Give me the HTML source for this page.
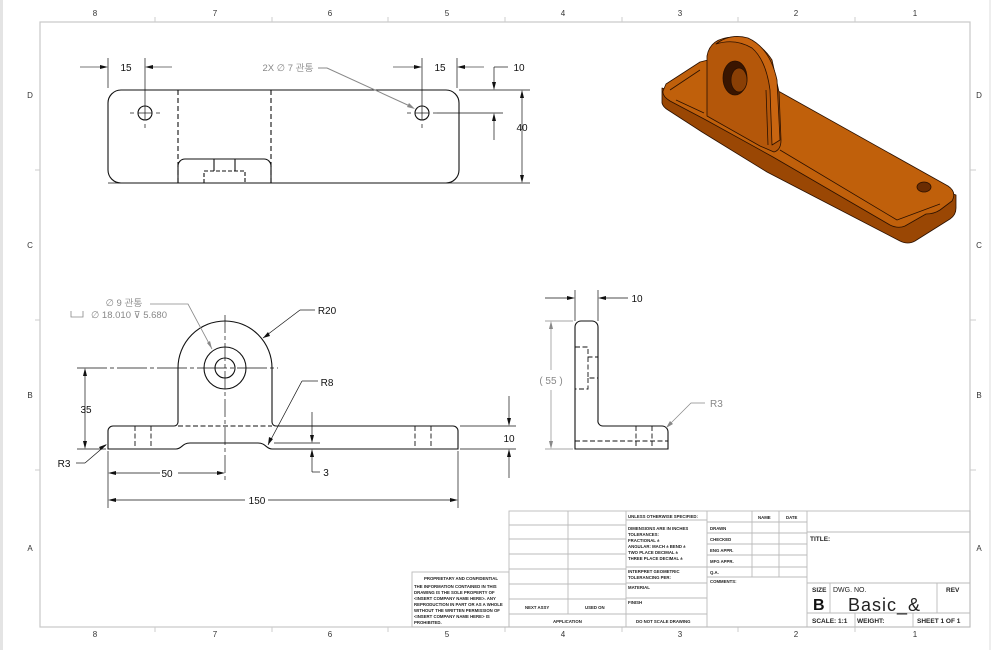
<!DOCTYPE html>
<html><head><meta charset="utf-8"><style>
html,body{margin:0;padding:0;background:#fff;}
svg{display:block;}
text{font-family:"Liberation Sans","NanumGothic",sans-serif;}
.t{font-size:4.3px;font-weight:bold;fill:#222;}
</style></head><body>
<svg width="1008" height="650" viewBox="0 0 1008 650" xmlns="http://www.w3.org/2000/svg">
<rect x="0" y="0" width="1008" height="650" fill="#fff"/>
<rect x="0" y="0" width="3" height="650" fill="#e4e4e4"/>
<!-- frames -->
<rect x="40" y="22" width="930" height="605" fill="none" stroke="#c8c8c8" stroke-width="1.2"/>
<line x1="990" y1="0" x2="990" y2="650" stroke="#ddd"/>
<g stroke="#ccc" stroke-width="1">
<line x1="155" y1="17" x2="155" y2="22"/><line x1="272" y1="17" x2="272" y2="22"/><line x1="388" y1="17" x2="388" y2="22"/><line x1="505" y1="17" x2="505" y2="22"/><line x1="622" y1="17" x2="622" y2="22"/><line x1="738" y1="17" x2="738" y2="22"/><line x1="855" y1="17" x2="855" y2="22"/>
<line x1="155" y1="627" x2="155" y2="632"/><line x1="272" y1="627" x2="272" y2="632"/><line x1="388" y1="627" x2="388" y2="632"/><line x1="505" y1="627" x2="505" y2="632"/><line x1="622" y1="627" x2="622" y2="632"/><line x1="738" y1="627" x2="738" y2="632"/><line x1="855" y1="627" x2="855" y2="632"/>
<line x1="35" y1="170" x2="40" y2="170"/><line x1="35" y1="320" x2="40" y2="320"/><line x1="35" y1="470" x2="40" y2="470"/>
<line x1="970" y1="170" x2="976" y2="170"/><line x1="970" y1="320" x2="976" y2="320"/><line x1="970" y1="470" x2="976" y2="470"/>
</g>
<g font-size="8" fill="#333" text-anchor="middle">
<text x="95" y="16">8</text><text x="215" y="16">7</text><text x="330" y="16">6</text><text x="447" y="16">5</text><text x="563" y="16">4</text><text x="680" y="16">3</text><text x="796" y="16">2</text><text x="915" y="16">1</text>
<text x="95" y="637">8</text><text x="215" y="637">7</text><text x="330" y="637">6</text><text x="447" y="637">5</text><text x="563" y="637">4</text><text x="680" y="637">3</text><text x="796" y="637">2</text><text x="915" y="637">1</text>
<text x="30" y="98">D</text><text x="30" y="248">C</text><text x="30" y="398">B</text><text x="30" y="551">A</text>
<text x="979" y="98">D</text><text x="979" y="248">C</text><text x="979" y="398">B</text><text x="979" y="551">A</text>
</g>

<!-- TOP VIEW -->
<g fill="none" stroke="#111" stroke-width="1.1">
<rect x="108" y="90" width="351" height="93" rx="13"/>
<circle cx="145" cy="113" r="7"/><circle cx="422" cy="113" r="7"/>
<line x1="178" y1="90" x2="178" y2="183" stroke-dasharray="5,3"/>
<line x1="271" y1="90" x2="271" y2="183" stroke-dasharray="5,3"/>
<path d="M178,183 V166 a7,7 0 0 1 7,-7 H264 a7,7 0 0 1 7,7 V183"/>
<path d="M204,183 V171 H245 V183" stroke-dasharray="4,2"/>
<line x1="214" y1="159" x2="214" y2="171"/><line x1="235" y1="159" x2="235" y2="171"/>
</g>
<g stroke="#111" stroke-width="0.7">
<line x1="138" y1="113" x2="152" y2="113"/><line x1="145" y1="106" x2="145" y2="120"/>
<line x1="415" y1="113" x2="429" y2="113"/><line x1="422" y1="106" x2="422" y2="120"/>
<line x1="130" y1="113" x2="134" y2="113"/><line x1="156" y1="113" x2="160" y2="113"/><line x1="145" y1="124" x2="145" y2="128"/>
<line x1="407" y1="113" x2="411" y2="113"/><line x1="433" y1="113" x2="437" y2="113"/><line x1="422" y1="124" x2="422" y2="128"/>
<line x1="108" y1="58" x2="108" y2="88"/><line x1="145" y1="58" x2="145" y2="106"/>
<line x1="422" y1="58" x2="422" y2="106"/><line x1="457" y1="58" x2="457" y2="88"/>
<line x1="459" y1="90" x2="530" y2="90"/><line x1="108" y1="183" x2="530" y2="183"/>
<line x1="437" y1="113" x2="503" y2="113"/>
<line x1="522" y1="92" x2="522" y2="181"/>
<line x1="494" y1="67" x2="494" y2="88"/><line x1="494" y1="67" x2="508" y2="67"/>
<line x1="494" y1="115" x2="494" y2="140"/>
</g>
<g stroke="#777" stroke-width="1">
<line x1="80" y1="67" x2="100" y2="67"/><line x1="153" y1="67" x2="172" y2="67"/>
<line x1="393" y1="67" x2="414" y2="67"/><line x1="465" y1="67" x2="484" y2="67"/>
<path d="M318,68 H327 L412,107" fill="none" stroke="#888"/>
</g>
<g fill="#111">
<polygon points="108,67 100,65 100,69"/><polygon points="145,67 153,65 153,69"/>
<polygon points="422,67 414,65 414,69"/><polygon points="457,67 465,65 465,69"/>
<polygon points="494,90 492,82 496,82"/><polygon points="494,113 492,121 496,121"/>
<polygon points="522,90 520,98 524,98"/><polygon points="522,183 520,175 524,175"/>
<polygon points="415,109 407,107 409,103" fill="#888"/>
</g>
<g font-size="10" fill="#111" text-anchor="middle">
<text x="126" y="71">15</text><text x="440" y="71">15</text><text x="519" y="71">10</text><text x="522" y="131">40</text>
</g>
<text x="288" y="71" font-size="9.5" fill="#888" text-anchor="middle">2X ∅ 7 관통</text>

<!-- FRONT VIEW -->
<g fill="none" stroke="#111" stroke-width="1.1">
<path d="M108,449 V431 a5,5 0 0 1 5,-5 H174 a4,4 0 0 0 4,-4 V368 A47,47 0 0 1 272,368 V422 a4,4 0 0 0 4,4 H453 a5,5 0 0 1 5,5 V449 H272 C266,449 266,443 258,443 H190 C182,443 182,449 176,449 Z"/>
<circle cx="225" cy="368" r="21"/><circle cx="225" cy="368" r="10"/>
<g stroke-dasharray="5,2.5" stroke-width="0.9">
<line x1="178" y1="426" x2="272" y2="426"/>
<line x1="135" y1="426" x2="135" y2="449"/><line x1="151" y1="426" x2="151" y2="449"/>
<line x1="415" y1="426" x2="415" y2="449"/><line x1="431" y1="426" x2="431" y2="449"/>
</g>
</g>
<g stroke="#111" stroke-width="0.7">
<line x1="225" y1="315" x2="225" y2="480" stroke-dasharray="18,3,4,3"/>
<line x1="77" y1="368" x2="278" y2="368" stroke-dasharray="30,3,4,3"/>
<line x1="77" y1="449" x2="106" y2="449"/>
<line x1="85" y1="370" x2="85" y2="447"/>
<line x1="108" y1="451" x2="108" y2="508"/><line x1="458" y1="451" x2="458" y2="508"/>
<line x1="110" y1="473" x2="160" y2="473"/><line x1="178" y1="473" x2="223" y2="473"/>
<line x1="110" y1="500" x2="245" y2="500"/><line x1="268" y1="500" x2="456" y2="500"/>
<line x1="460" y1="426" x2="516" y2="426"/><line x1="460" y1="449" x2="516" y2="449"/>
<line x1="509" y1="396" x2="509" y2="424"/><line x1="509" y1="451" x2="509" y2="478"/>
<line x1="274" y1="443" x2="320" y2="443"/>
<line x1="312" y1="412" x2="312" y2="441"/><line x1="312" y1="451" x2="312" y2="472"/><line x1="312" y1="472" x2="320" y2="472"/>
<line x1="268" y1="445" x2="302" y2="381"/><line x1="302" y1="381" x2="318" y2="381"/>
<line x1="263" y1="338" x2="300" y2="310"/><line x1="300" y1="310" x2="315" y2="310"/>
<line x1="76" y1="463" x2="85" y2="463"/><line x1="85" y1="463" x2="106" y2="445"/>
</g>
<g fill="#111">
<polygon points="85,368 83,376 87,376"/><polygon points="85,449 83,441 87,441"/>
<polygon points="108,473 116,471 116,475"/><polygon points="225,473 217,471 217,475"/>
<polygon points="108,500 116,498 116,502"/><polygon points="458,500 450,498 450,502"/>
<polygon points="509,426 507,418 511,418"/><polygon points="509,449 507,457 511,457"/>
<polygon points="312,443 310,435 314,435"/><polygon points="312,449 310,457 314,457"/>
<polygon points="268,445 269,437 273,439"/>
<polygon points="263,338 268,332 270,336"/>
<polygon points="107,444 101,450 99,447"/>
</g>
<path d="M150,304 H188 L212,349" fill="none" stroke="#888" stroke-width="0.8"/>
<polygon points="212,349 207,343 210,341" fill="#888"/>
<g font-size="10" fill="#111" text-anchor="middle">
<text x="86" y="413">35</text><text x="167" y="477">50</text><text x="257" y="504">150</text><text x="509" y="442">10</text>
<text x="326" y="476">3</text><text x="327" y="386">R8</text><text x="327" y="314">R20</text><text x="64" y="467">R3</text>
</g>
<text x="124" y="306" font-size="9.5" fill="#888" text-anchor="middle">∅ 9 관통</text>
<text x="91" y="318" font-size="9.5" fill="#888">∅ 18.010 ⊽ 5.680</text>
<path d="M71,311 V317 H83 V311" fill="none" stroke="#888" stroke-width="0.8"/>

<!-- SIDE VIEW -->
<g fill="none" stroke="#111" stroke-width="1.1">
<path d="M575,449 V327 a6,6 0 0 1 6,-6 H592 a6,6 0 0 1 6,6 V420 a5,5 0 0 0 5,6 H662 a6,6 0 0 1 6,6 V449 Z"/>
<g stroke-dasharray="5,2.5" stroke-width="0.9">
<path d="M575,347 H588 V357 H598 M588,357 V378 H598 M588,378 V389 H575"/>
<line x1="575" y1="441" x2="668" y2="441"/>
<line x1="636" y1="426" x2="636" y2="449"/><line x1="652" y1="426" x2="652" y2="449"/>
</g>
</g>
<g stroke="#111" stroke-width="0.7">
<line x1="575" y1="290" x2="575" y2="321"/><line x1="598" y1="290" x2="598" y2="321"/>
<line x1="545" y1="298" x2="567" y2="298"/><line x1="606" y1="298" x2="628" y2="298"/>
</g>
<g stroke="#888" stroke-width="0.7">
<line x1="545" y1="321" x2="573" y2="321"/><line x1="545" y1="449" x2="573" y2="449"/>
<line x1="551" y1="323" x2="551" y2="370"/><line x1="551" y1="390" x2="551" y2="447"/>
<path d="M666,428 L691,403 H705" fill="none"/>
</g>
<g fill="#111">
<polygon points="575,298 567,296 567,300"/><polygon points="598,298 606,296 606,300"/>
</g>
<g fill="#888">
<polygon points="551,321 549,329 553,329"/><polygon points="551,449 549,441 553,441"/>
<polygon points="666,428 670,421 673,424"/>
</g>
<text x="637" y="302" font-size="10" fill="#111" text-anchor="middle">10</text>
<text x="551" y="384" font-size="10" fill="#888" text-anchor="middle">( 55 )</text>
<text x="710" y="407" font-size="10" fill="#888">R3</text>

<!-- 3D VIEW -->
<g stroke="#2a1000" stroke-width="0.8" stroke-linejoin="round">
<!-- plate thickness / underside -->
<path d="M662,88 L662,103 Q663,107 668,110 L702,132 L767,172 L900,241 Q908,245 915,241 L950,219 Q956,215 956,208 L956,195 Z" fill="#9a4704"/>
<!-- plate top face -->
<path d="M666,84 L700,62 L708,60 L780,92 L948,186 Q957,192 952,201 L940,210 Q934,214 926,214 L905,226 Q898,229 890,225 L773,157 L706,120 L670,101 Q662,96 663,91 Z" fill="#c0600b"/>
<path d="M670,90 L700,70 M676,100 L704,113 M780,150 L897,220 L940,204" fill="none"/>
<!-- upright face -->
<path d="M707,116 V56 Q710,38 733,37 Q758,38 772,60 L779,92 L781,140 Q781,150 774,152 L760,146 Z" fill="#b4570a"/>
<!-- upright rim -->
<path d="M716,44 Q730,33 748,38 Q770,48 777,80 L780,140 L772,145 L770,90 Q766,60 752,48 Q735,38 716,44 Z" fill="#c96510"/>
<path d="M766,90 L768,145" fill="none"/>
<ellipse cx="735" cy="78" rx="12" ry="17" fill="#3a1500"/>
<ellipse cx="739" cy="80" rx="8" ry="12" fill="#8a3f05"/>
<ellipse cx="924" cy="187" rx="7" ry="5" fill="#6a2c02"/>
</g>

<!-- TITLE BLOCK -->
<g stroke="#bbb" stroke-width="0.9" fill="none">
<rect x="509" y="511" width="461" height="116"/>
<line x1="509" y1="525" x2="626" y2="525"/><line x1="509" y1="539" x2="626" y2="539"/><line x1="509" y1="554" x2="626" y2="554"/><line x1="509" y1="569" x2="626" y2="569"/><line x1="509" y1="584" x2="626" y2="584"/><line x1="509" y1="599" x2="626" y2="599"/><line x1="509" y1="614" x2="707" y2="614"/>
<line x1="568" y1="511" x2="568" y2="614"/><line x1="626" y1="511" x2="626" y2="627"/><line x1="707" y1="511" x2="707" y2="627"/>
<line x1="626" y1="520" x2="707" y2="520"/><line x1="626" y1="567" x2="707" y2="567"/><line x1="626" y1="583" x2="707" y2="583"/><line x1="626" y1="598" x2="707" y2="598"/>
<line x1="707" y1="522" x2="807" y2="522"/><line x1="707" y1="533" x2="807" y2="533"/><line x1="707" y1="544" x2="807" y2="544"/><line x1="707" y1="555" x2="807" y2="555"/><line x1="707" y1="567" x2="807" y2="567"/><line x1="707" y1="577" x2="807" y2="577"/>
<line x1="752" y1="511" x2="752" y2="577"/><line x1="779" y1="511" x2="779" y2="577"/><line x1="807" y1="511" x2="807" y2="627"/>
<line x1="807" y1="532" x2="970" y2="532"/><line x1="807" y1="583" x2="970" y2="583"/><line x1="807" y1="613" x2="970" y2="613"/>
<line x1="830" y1="583" x2="830" y2="613"/><line x1="937" y1="583" x2="937" y2="613"/>
<line x1="855" y1="613" x2="855" y2="627"/><line x1="913" y1="613" x2="913" y2="627"/>
<rect x="412" y="572" width="97" height="55"/>
</g>
<g class="t">
<text x="628" y="518">UNLESS OTHERWISE SPECIFIED:</text>
<text x="628" y="530">DIMENSIONS ARE IN INCHES</text>
<text x="628" y="536">TOLERANCES:</text>
<text x="628" y="542">FRACTIONAL ±</text>
<text x="628" y="548">ANGULAR: MACH ±   BEND ±</text>
<text x="628" y="554">TWO PLACE DECIMAL   ±</text>
<text x="628" y="560">THREE PLACE DECIMAL  ±</text>
<text x="628" y="573">INTERPRET GEOMETRIC</text>
<text x="628" y="579">TOLERANCING PER:</text>
<text x="628" y="589">MATERIAL</text>
<text x="628" y="604">FINISH</text>
<text x="636" y="623">DO NOT SCALE DRAWING</text>
<text x="553" y="623">APPLICATION</text>
<text x="525" y="609">NEXT ASSY</text>
<text x="585" y="609">USED ON</text>
<text x="758" y="519">NAME</text><text x="786" y="519">DATE</text>
<text x="710" y="530">DRAWN</text><text x="710" y="541">CHECKED</text><text x="710" y="552">ENG APPR.</text><text x="710" y="563">MFG APPR.</text><text x="710" y="574">Q.A.</text><text x="710" y="583">COMMENTS:</text>
<text x="424" y="580">PROPRIETARY AND CONFIDENTIAL</text>
<text x="414" y="588">THE INFORMATION CONTAINED IN THIS</text>
<text x="414" y="594">DRAWING IS THE SOLE PROPERTY OF</text>
<text x="414" y="600">&lt;INSERT COMPANY NAME HERE&gt;.  ANY</text>
<text x="414" y="606">REPRODUCTION IN PART OR AS A WHOLE</text>
<text x="414" y="612">WITHOUT THE WRITTEN PERMISSION OF</text>
<text x="414" y="618">&lt;INSERT COMPANY NAME HERE&gt; IS</text>
<text x="414" y="624">PROHIBITED.</text>
</g>
<g font-weight="bold" fill="#222" font-size="6.5">
<text x="810" y="541">TITLE:</text>
<text x="812" y="592">SIZE</text>
<text x="946" y="592">REV</text>
<text x="812" y="623">SCALE: 1:1</text>
<text x="857" y="623">WEIGHT:</text>
<text x="917" y="623">SHEET 1 OF 1</text>
</g>
<text x="833" y="592" font-size="7" fill="#222">DWG.  NO.</text>
<text x="813" y="610" font-size="16" font-weight="bold" fill="#111">B</text>
<text x="848" y="611" font-size="18" fill="#222" letter-spacing="1">Basic_&amp;</text>
</svg>
</body></html>
